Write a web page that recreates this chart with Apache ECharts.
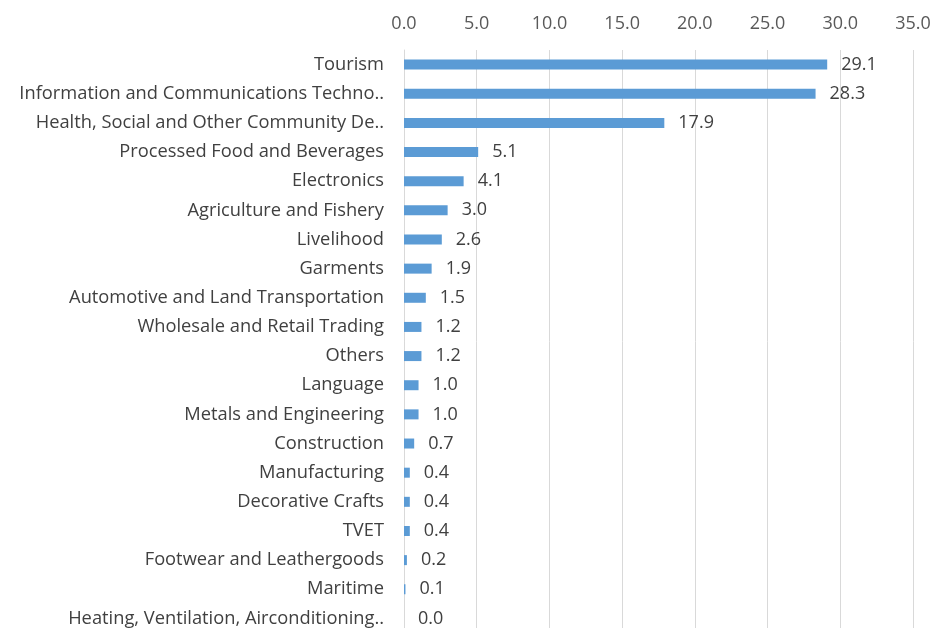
<!DOCTYPE html>
<html>
<head>
<meta charset="utf-8">
<script src="https://cdn.jsdelivr.net/npm/echarts@6/dist/echarts.min.js"></script>
<style>
  html, body { margin: 0; padding: 0; background: #fff; overflow: hidden; }
  /* a bit taller than the window: the original's plot area is cut off at the bottom */
  #main { width: 952px; height: 640px; }
</style>
</head>
<body>
<div id="main"></div>
<script>
var categories = [
  'Tourism',
  'Information and Communications Techno..',
  'Health, Social and Other Community De..',
  'Processed Food and Beverages',
  'Electronics',
  'Agriculture and Fishery',
  'Livelihood',
  'Garments',
  'Automotive and Land Transportation',
  'Wholesale and Retail Trading',
  'Others',
  'Language',
  'Metals and Engineering',
  'Construction',
  'Manufacturing',
  'Decorative Crafts',
  'TVET',
  'Footwear and Leathergoods',
  'Maritime',
  'Heating, Ventilation, Airconditioning..'
]
var values = [29.1, 28.3, 17.9, 5.1, 4.1, 3.0, 2.6, 1.9, 1.5, 1.2, 1.2, 1.0, 1.0, 0.7, 0.4, 0.4, 0.4, 0.2, 0.1, 0.0]
var xMin = 0
var xMax = 35
var xStep = 5

var myChart = echarts.init(document.getElementById('main'))
var option = {
  backgroundColor: '#ffffff',
  textStyle: { fontFamily: 'Open Sans' },
  grid: { left: 404, right: 39, top: 50, bottom: 7, containLabel: false },
  xAxis: {
    type: 'value',
    position: 'top',
    min: xMin,
    max: xMax,
    interval: xStep,
    axisLine: { show: false },
    axisTick: { show: false },
    splitLine: { lineStyle: { color: '#d9d9d9', width: 1 } },
    axisLabel: {
      color: '#595959',
      fontSize: 18,
      margin: 17,
      formatter: function (v) { return v.toFixed(1) }
    }
  },
  yAxis: {
    type: 'category',
    inverse: true,
    data: categories,
    axisLine: { show: true, lineStyle: { color: '#d9d9d9', width: 1 } },
    axisTick: { show: false },
    axisLabel: { color: '#404040', fontSize: 18.3, margin: 20 }
  },
  series: [{
    type: 'bar',
    data: values,
    barWidth: 10,
    itemStyle: { color: '#5b9bd5' },
    label: {
      show: true,
      position: 'right',
      distance: 14,
      color: '#404040',
      fontSize: 18,
      formatter: function (p) { return p.value.toFixed(1) }
    }
  }]
}
myChart.setOption(option)
</script>
</body>
</html>
